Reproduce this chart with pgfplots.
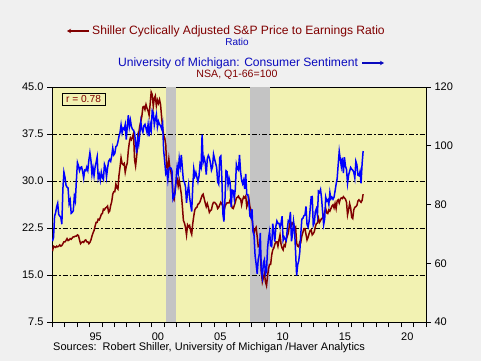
\documentclass[border=0pt]{standalone}
\usepackage{fontspec}
\setmainfont{Liberation Sans}
\usepackage{pgfplots}
\pgfplotsset{compat=1.18}
\usepackage{pgfplotstable}
\usetikzlibrary{arrows.meta}
\definecolor{bgc}{RGB}{240,240,240}
\definecolor{plotbg}{RGB}{242,242,178}
\definecolor{dred}{RGB}{128,0,0}
\definecolor{lblue}{RGB}{0,0,255}
\definecolor{tblue}{RGB}{10,10,190}
\definecolor{recg}{RGB}{196,196,196}

% monthly, Jan 1992 - Dec 2016: CAPE (left), Michigan sentiment (right)
\pgfplotstableread{
cape sent
18.8 67.5
19.6 68.8
19.5 76.0
19.4 77.2
19.6 79.2
19.5 80.4
19.6 76.6
19.8 76.1
19.6 75.6
19.7 73.3
20.0 85.3
20.3 91.0
20.3 89.3
20.5 86.6
20.8 85.9
20.5 85.6
20.6 80.3
20.8 81.5
20.7 77.0
20.9 77.3
21.1 77.9
21.1 82.7
21.2 81.2
21.2 88.2
21.4 94.3
21.3 93.2
20.6 91.5
20.0 92.6
20.2 92.8
20.3 91.2
20.2 89.0
20.5 91.7
20.6 91.5
20.3 92.7
20.3 91.6
20.0 95.1
20.2 97.6
20.6 95.1
21.2 90.3
21.7 92.5
22.1 89.8
22.8 92.7
23.4 94.4
23.4 96.2
23.9 88.9
23.8 90.2
24.2 88.2
24.7 91.0
24.8 89.3
25.5 88.5
25.4 93.7
25.7 92.7
25.8 89.4
26.0 92.4
25.0 94.7
25.2 95.3
26.1 94.7
26.7 96.5
27.9 99.2
28.3 96.9
28.3 97.4
29.5 99.7
28.9 100.0
28.7 101.4
30.9 103.2
32.2 104.5
33.7 107.1
32.8 104.4
32.6 106.0
32.8 105.6
31.4 107.2
32.3 102.1
32.9 106.6
34.9 110.4
36.2 106.5
36.9 108.7
36.6 106.5
37.0 105.6
37.6 105.2
33.4 104.4
32.4 100.9
33.9 97.4
36.0 102.7
37.6 100.5
38.8 103.9
39.5 108.1
40.3 105.7
41.8 104.6
41.9 106.8
41.4 107.3
42.2 106.0
41.6 104.5
41.2 107.2
40.5 103.2
42.3 107.2
44.2 105.4
43.8 112.0
41.9 111.3
43.2 107.1
43.6 109.2
42.0 110.7
42.9 106.4
42.4 108.3
43.0 107.3
42.2 106.8
40.3 105.8
38.4 107.6
37.3 98.4
36.9 94.7
35.8 90.6
32.2 91.5
31.9 88.4
33.5 92.0
32.0 92.6
31.5 92.4
30.4 91.5
27.3 81.8
27.0 82.7
28.6 83.9
30.0 88.8
30.3 93.0
29.2 90.7
30.1 95.7
29.0 93.0
27.9 96.9
26.0 92.4
23.7 88.1
23.3 87.6
22.6 86.1
21.4 80.6
23.0 84.2
22.7 86.7
22.9 82.4
22.0 79.9
21.5 77.6
23.2 86.0
24.4 92.1
25.4 89.7
25.7 90.9
25.8 89.3
26.3 87.7
26.4 89.6
26.7 93.7
27.2 92.6
27.7 103.8
27.9 94.4
27.2 95.8
26.5 94.2
25.9 90.2
26.4 95.6
25.8 96.7
25.0 95.9
25.3 94.2
25.4 91.7
26.2 92.8
26.6 97.1
26.6 95.5
26.4 94.1
26.2 92.6
25.6 87.7
25.8 86.9
26.2 96.0
26.6 96.5
26.3 89.1
26.0 76.9
25.3 74.2
25.9 81.6
26.3 91.5
26.5 91.2
26.5 86.7
26.5 88.9
27.0 87.4
26.3 79.1
25.7 84.9
25.6 84.7
26.1 82.0
26.6 85.4
27.3 93.6
27.4 92.1
27.6 91.7
27.2 96.9
27.2 91.3
26.2 88.4
27.0 87.1
27.5 88.3
27.3 85.3
27.6 90.4
25.9 83.4
26.4 83.4
27.2 80.9
25.9 76.1
25.4 75.5
24.0 78.4
22.6 70.8
21.7 69.5
22.3 62.6
22.6 59.8
21.2 56.4
19.6 61.2
19.8 63.0
18.9 70.3
15.4 57.6
13.9 55.3
14.6 60.1
15.2 61.2
13.9 56.3
13.3 57.3
14.8 65.1
16.1 68.7
16.7 70.8
16.7 66.0
18.2 65.7
19.0 73.5
19.3 70.6
19.9 67.4
20.3 72.5
20.3 74.4
19.6 73.6
20.6 73.6
21.4 72.2
19.9 73.6
19.3 76.0
19.0 67.8
19.8 68.9
19.6 68.2
20.7 67.7
21.2 71.6
21.7 74.5
22.9 74.2
23.5 77.5
22.9 67.5
23.3 69.8
23.2 74.3
22.3 71.5
22.6 63.7
20.1 55.8
19.6 59.5
19.5 60.8
20.3 63.7
20.2 69.9
21.2 75.0
21.8 75.3
22.4 76.2
22.4 76.4
21.5 79.3
20.6 73.2
21.0 72.3
21.6 74.3
22.1 78.3
22.2 82.6
21.4 82.7
21.6 72.9
21.9 73.8
22.7 77.6
23.2 78.6
23.3 76.4
24.1 84.5
23.4 84.1
23.7 85.1
24.0 82.1
24.1 77.5
24.5 73.2
25.1 75.1
25.6 82.5
24.9 81.2
24.8 81.6
25.4 80.0
25.2 84.1
25.6 81.9
26.0 82.5
26.2 81.8
25.7 82.5
26.4 84.6
25.6 86.9
26.8 88.8
27.0 93.6
26.5 98.1
27.1 95.4
27.3 93.0
27.2 95.9
27.5 90.7
27.3 96.1
27.1 93.1
26.6 91.9
24.6 87.2
25.4 90.0
26.4 91.3
25.7 92.6
24.2 92.0
24.0 91.7
25.4 91.0
25.8 89.0
25.9 94.7
26.1 93.5
26.8 90.0
27.0 89.8
26.8 91.2
26.6 87.2
26.9 93.8
27.9 98.2
}\data

\begin{document}
\begin{tikzpicture}[x=1pt,y=1pt]
\fill[bgc] (0,0) rectangle (481,361);
\begin{axis}[
  at={(52pt,39pt)}, anchor=south west,
  scale only axis, width=374pt, height=235pt,
  xmin=1992, xmax=2022, ymin=7.5, ymax=45,
  axis background/.style={fill=plotbg},
  axis line style={black, line width=0.8pt},
  tick align=outside, xtick pos=left, ytick pos=left,
  major tick length=5pt,
  tick style={black, line width=0.7pt},
  xtick={1992,1993,...,2022}, xticklabels={},
  extra x ticks={1995.5,2000.5,2005.5,2010.5,2015.5,2020.5},
  extra x tick labels={95,00,05,10,15,20},
  extra x tick style={major tick length=0pt, xticklabel style={yshift=-7pt}},
  ytick={7.5,15,22.5,30,37.5,45},
  yticklabel style={/pgf/number format/.cd, fixed, fixed zerofill, precision=1, assume math mode=true},
  ticklabel style={font=\fontsize{11}{13}\selectfont},
  clip=true,
]
\addplot[fill=recg, draw=none] coordinates {(2001.17,7.5) (2001.17,45) (2001.92,45) (2001.92,7.5)} -- cycle;
\addplot[fill=recg, draw=none] coordinates {(2007.92,7.5) (2007.92,45) (2009.50,45) (2009.50,7.5)} -- cycle;
\addplot[black, line width=0.8pt, dash pattern=on 5pt off 2pt on 1.5pt off 2pt] coordinates {(1992,15) (2022,15)};
\addplot[black, line width=0.8pt, dash pattern=on 5pt off 2pt on 1.5pt off 2pt] coordinates {(1992,22.5) (2022,22.5)};
\addplot[black, line width=0.8pt, dash pattern=on 5pt off 2pt on 1.5pt off 2pt] coordinates {(1992,30) (2022,30)};
\addplot[black, line width=0.8pt, dash pattern=on 5pt off 2pt on 1.5pt off 2pt] coordinates {(1992,37.5) (2022,37.5)};
\addplot[dred, line width=1.5pt] table[x expr=1992.04+\coordindex/12, y=cape] {\data};
\end{axis}
\begin{axis}[
  at={(52pt,39pt)}, anchor=south west,
  scale only axis, width=374pt, height=235pt,
  xmin=1992, xmax=2022, ymin=40, ymax=120,
  axis x line=none, axis y line*=right,
  axis line style={black, line width=0.8pt},
  tick align=outside,
  major tick length=5pt,
  tick style={black, line width=0.7pt},
  ytick={40,60,80,100,120},
  yticklabel style={/pgf/number format/assume math mode=true},
  ticklabel style={font=\fontsize{11}{13}\selectfont},
]
\addplot[lblue, line width=1.5pt] table[x expr=1992.04+\coordindex/12, y=sent] {\data};
\end{axis}
% titles
\draw[dred, line width=1.3pt, -{Stealth[length=4pt,width=4.5pt]}] (89,330) -- (67,330);
\node[dred, font=\fontsize{12.1}{14}\selectfont] at (238.5,330) {Shiller Cyclically Adjusted S\&P Price to Earnings Ratio};
\node[tblue, font=\fontsize{10}{12}\selectfont] at (237,319) {Ratio};
\node[tblue, font=\fontsize{12.1}{14}\selectfont] at (238,298) {University of Michigan: Consumer Sentiment};
\draw[tblue, line width=1.3pt, -{Stealth[length=4pt,width=4.5pt]}] (362,298) -- (384,298);
\node[dred, font=\fontsize{10.6}{12}\selectfont] at (237,286) {NSA, Q1-66=100};
\node[draw=black, line width=0.7pt, fill=plotbg, text=dred, font=\fontsize{10.2}{12}\selectfont, minimum width=43pt, minimum height=12pt, inner sep=0pt] at (83.5,262) {r = 0.78};
\node[anchor=west, font=\fontsize{11}{13}\selectfont, inner sep=0pt] at (53,13) {Sources:\ \ Robert Shiller, University of Michigan /Haver Analytics};
\pgfresetboundingbox
\path (0,0) rectangle (481,361);
\end{tikzpicture}
\end{document}
